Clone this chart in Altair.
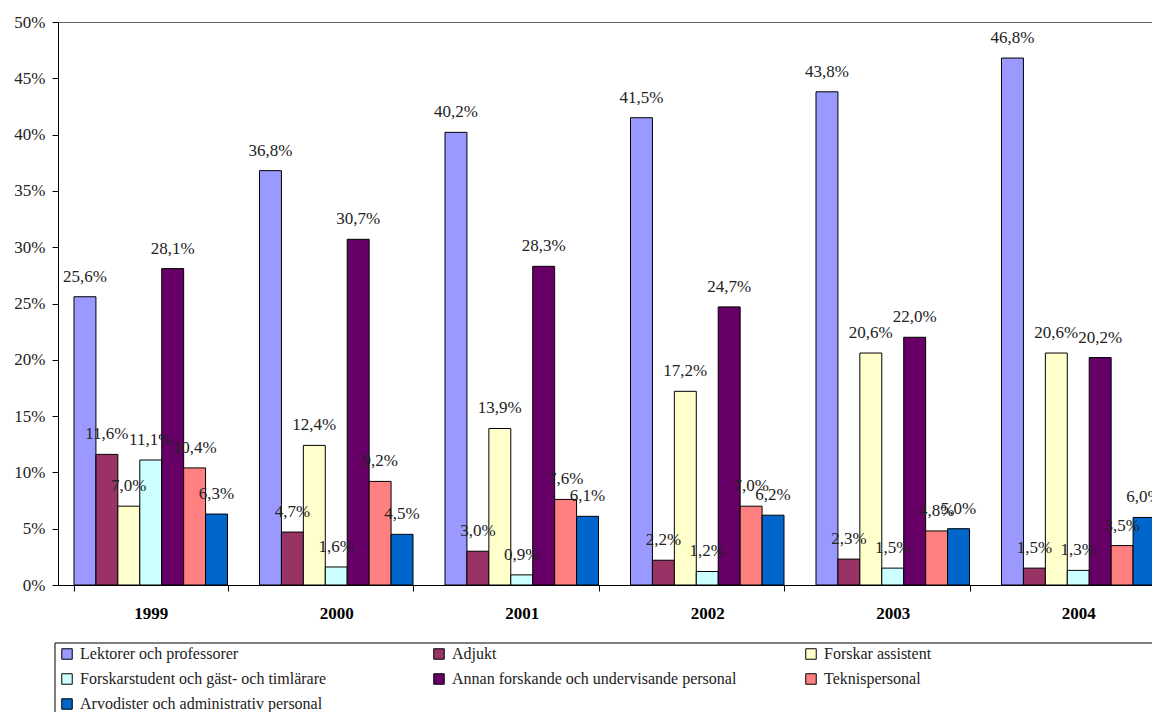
import altair as alt
import pandas as pd

years = ["1999", "2000", "2001", "2002", "2003", "2004"]
series = [
    "Lektorer och professorer",
    "Adjukt",
    "Forskar assistent",
    "Forskarstudent och gäst- och timlärare",
    "Annan forskande och undervisande personal",
    "Teknispersonal",
    "Arvodister och administrativ personal",
]
colors = ["#9999FF", "#993366", "#FFFFCC", "#CCFFFF", "#660066", "#FF8080", "#0066CC"]

lektorer = [25.6, 36.8, 40.2, 41.5, 43.8, 46.8]
adjukt = [11.6, 4.7, 3.0, 2.2, 2.3, 1.5]
forskar_assistent = [7.0, 12.4, 13.9, 17.2, 20.6, 20.6]
forskarstudent = [11.1, 1.6, 0.9, 1.2, 1.5, 1.3]
annan = [28.1, 30.7, 28.3, 24.7, 22.0, 20.2]
teknis = [10.4, 9.2, 7.6, 7.0, 4.8, 3.5]
arvodister = [6.3, 4.5, 6.1, 6.2, 5.0, 6.0]

all_values = [lektorer, adjukt, forskar_assistent, forskarstudent, annan, teknis, arvodister]

rows = []
for s, vals in zip(series, all_values):
    for y, v in zip(years, vals):
        rows.append({"year": y, "series": s, "value": v,
                     "label": f"{v:.1f}".replace(".", ",") + "%"})
df = pd.DataFrame(rows)

SERIF = "Liberation Serif, Times New Roman, serif"

x_enc = alt.X(
    "year:N",
    sort=years,
    scale=alt.Scale(paddingInner=0.1725, paddingOuter=0.08625),
    axis=alt.Axis(
        title=None, labelAngle=0, tickBand="extent", tickSize=6,
        domainColor="black", tickColor="black", domainWidth=1,
        labelFont=SERIF, labelFontSize=17, labelFontWeight="bold",
        labelColor="black", labelBaseline="alphabetic", labelPadding=27,
    ),
)
xoff_enc = alt.XOffset("series:N", sort=series,
                       scale=alt.Scale(domain=series, paddingInner=0, paddingOuter=0))
y_enc = alt.Y(
    "value:Q",
    scale=alt.Scale(domain=[0, 50], nice=False),
    axis=alt.Axis(
        title=None, grid=False, values=list(range(0, 55, 5)),
        labelExpr="datum.value + '%'", tickSize=6, labelPadding=7,
        domainColor="black", tickColor="black",
        labelFont=SERIF, labelFontSize=17, labelColor="#222",
    ),
)
color_enc = alt.Color(
    "series:N",
    sort=series,
    scale=alt.Scale(domain=series, range=colors),
    legend=alt.Legend(
        title=None, orient="none", legendX=-5, legendY=618,
        direction="horizontal", columns=3, gridAlign="all",
        columnPadding=66, rowPadding=9, padding=6,
        symbolType="square", symbolSize=110, symbolStrokeColor="black",
        symbolStrokeWidth=1, symbolOpacity=1,
        labelFont=SERIF, labelFontSize=16, labelColor="#222", labelLimit=600,
        labelOffset=5,
    ),
)

bars = alt.Chart(df).mark_bar(stroke="black", strokeWidth=1, opacity=1).encode(
    x=x_enc, xOffset=xoff_enc, y=y_enc, color=color_enc
)
labels = alt.Chart(df).mark_text(
    baseline="alphabetic", align="center", dy=-15,
    font=SERIF, fontSize=17, color="#222",
).encode(x=x_enc, xOffset=xoff_enc, y=y_enc, text="label:N")

# frame around the legend (extends past the right edge, as in the original)
legend_frame = alt.Chart(pd.DataFrame({"k": [0]})).mark_rect(
    fill="white", stroke="black", strokeWidth=1
).encode(
    x=alt.value(-3), x2=alt.value(1200), y=alt.value(621), y2=alt.value(760)
)

chart = alt.layer(legend_frame, bars, labels).properties(
    width=1113, height=563,
    autosize=alt.AutoSizeParams(type="none"),
    padding={"left": 50, "top": 14, "right": -19, "bottom": 127},
    background="white",
).configure_view(stroke="#666666", strokeWidth=1)

chart.save("out.html", embed_options={"renderer": "svg", "actions": False})
